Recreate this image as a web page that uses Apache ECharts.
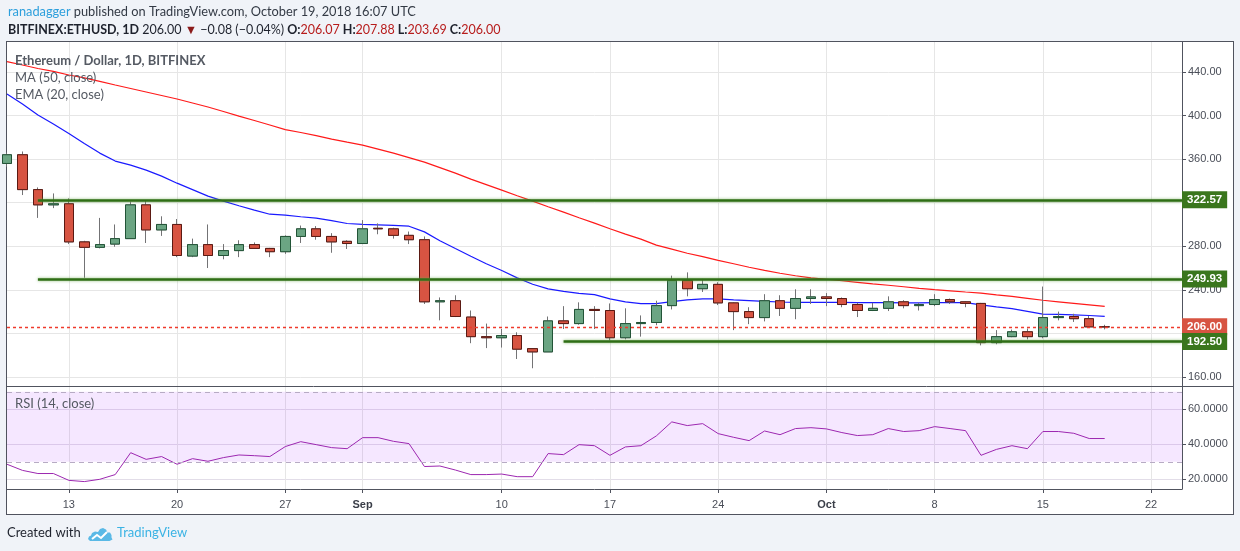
<!DOCTYPE html>
<html>
<head>
<meta charset="utf-8">
<title>BITFINEX:ETHUSD, 1D</title>
<script src="https://cdn.jsdelivr.net/npm/echarts@6.0.0/dist/echarts.min.js"></script>
<style>
html,body{margin:0;padding:0;background:#f0f3f8;overflow:hidden;}
#frame{position:absolute;left:6px;top:41px;width:1226px;height:472px;background:#ffffff;border:1px solid #50535e;}
#c{position:absolute;left:0;top:0;width:1240px;height:551px;}
</style>
</head>
<body>
<div id="frame"></div>
<div id="c"></div>
<script>
// ---------- data ----------
const categories = [
 '2018-08-09','2018-08-10','2018-08-11','2018-08-12','2018-08-13','2018-08-14','2018-08-15','2018-08-16','2018-08-17','2018-08-18',
 '2018-08-19','2018-08-20','2018-08-21','2018-08-22','2018-08-23','2018-08-24','2018-08-25','2018-08-26','2018-08-27','2018-08-28',
 '2018-08-29','2018-08-30','2018-08-31','2018-09-01','2018-09-02','2018-09-03','2018-09-04','2018-09-05','2018-09-06','2018-09-07',
 '2018-09-08','2018-09-09','2018-09-10','2018-09-11','2018-09-12','2018-09-13','2018-09-14','2018-09-15','2018-09-16','2018-09-17',
 '2018-09-18','2018-09-19','2018-09-20','2018-09-21','2018-09-22','2018-09-23','2018-09-24','2018-09-25','2018-09-26','2018-09-27',
 '2018-09-28','2018-09-29','2018-09-30','2018-10-01','2018-10-02','2018-10-03','2018-10-04','2018-10-05','2018-10-06','2018-10-07',
 '2018-10-08','2018-10-09','2018-10-10','2018-10-11','2018-10-12','2018-10-13','2018-10-14','2018-10-15','2018-10-16','2018-10-17',
 '2018-10-18','2018-10-19','2018-10-20','2018-10-21','2018-10-22','2018-10-23','2018-10-24'
];
const opens = [
 356, 364, 332, 318, 319, 284, 279, 282, 287, 318, 295, 300,
 271, 281.5, 271.5, 276, 281.5, 278, 275, 289, 296, 289, 284.5, 282.5,
 296.5, 296, 290, 286, 229, 230, 215, 197, 196, 198, 186, 183,
 211.5, 209, 222, 221, 196, 209, 210, 225.5, 248.5, 241, 245, 228,
 220, 214.5, 230, 223, 232, 233.5, 232, 226.5, 221, 223, 229, 225.5,
 226.5, 231, 229, 227.5, 191.5, 197, 201.5, 197, 214.5, 215.5, 213.5, 206.07
];
const closes = [
 364, 332, 318, 319, 284, 279, 281.5, 287, 318, 295, 300, 271.5,
 281.5, 271.5, 276, 281.5, 278, 275, 289, 296, 289, 284, 282.5, 296,
 296, 290, 286, 229, 230, 215.5, 197, 196, 198, 185.5, 183, 211.5,
 209, 222, 221, 196, 209, 210, 225.5, 248.5, 241, 245, 228, 220,
 214.5, 230, 223, 232, 233.5, 232, 226.5, 221, 223, 229, 225.5, 226.5,
 231, 229, 227.5, 191.5, 197, 201.5, 197, 214.5, 215.5, 213.5, 206, 206.00
];
const lows = [
 353, 327, 306, 315, 282, 251, 278, 279.5, 287, 283, 289.5, 270,
 270, 260, 268, 270, 277.5, 270, 273, 283, 286, 274, 277.5, 282,
 291, 287, 282, 227, 212, 215, 191, 186.5, 187, 176.5, 168, 183,
 204, 208, 204, 193.5, 194.5, 197, 207.5, 222, 234, 238, 226, 203,
 208.5, 211, 216, 213, 227, 225, 224, 215, 220.5, 220.5, 223, 221,
 225, 227, 224, 189, 190, 196.5, 194.5, 195.5, 212, 210.5, 205, 203.69
];
const highs = [
 366, 367, 334, 328.5, 324, 285, 306, 300, 321, 322, 307.5, 305,
 287, 300, 282, 285.5, 283.5, 278.5, 290, 299, 298.5, 292, 285.5, 304,
 301, 297, 293.5, 289, 233, 235, 221, 209, 204, 201, 186.5, 215.5,
 225, 228.5, 225, 227.5, 223, 216.5, 230, 253, 256, 250, 247, 228.5,
 224, 236, 235, 240.5, 240.5, 237, 233, 228, 228, 234, 230.5, 228,
 236, 232, 229.5, 228, 203, 203.5, 204.5, 243, 220, 218, 216, 207.88
];
const ma50 = [
 449.5, 446.4, 443.2, 440.5, 437.2, 434.5, 431.3, 428.0, 424.8, 421.6, 418.4, 415.2,
 411.5, 407.8, 403.7, 399.5, 395.4, 391.3, 387.1, 384.4, 381.6, 378.4, 375.6, 372.9,
 369.2, 365.5, 361.4, 357.2, 352.2, 347.1, 341.6, 336.6, 331.5, 326.4, 321.4, 316.3,
 311.3, 306.2, 301.2, 296.1, 291.1, 286.5, 281.0, 277.3, 273.6, 270.4, 267.1, 263.9,
 260.7, 257.9, 255.2, 252.9, 251.0, 249.7, 248.3, 246.9, 245.5, 244.2, 242.8, 241.4,
 240.2, 239.1, 238.0, 237.0, 235.4, 234.0, 232.2, 230.4, 229.0, 227.6, 226.2, 224.8
];
const ema20 = [
 419.8, 410.6, 400.5, 392.2, 383.5, 374.3, 365.5, 358.2, 354.5, 349.9, 344.4, 337.9,
 332.0, 326.0, 321.4, 317.2, 313.1, 309.4, 308.5, 307.1, 305.8, 303.5, 300.9, 300.0,
 299.7, 299.1, 298.4, 293.2, 285.1, 277.9, 270.8, 263.9, 257.7, 251.0, 245.1, 240.9,
 238.6, 236.8, 235.6, 231.7, 229.0, 227.3, 227.3, 229.2, 230.8, 231.6, 231.7, 230.8,
 230.1, 229.4, 228.8, 228.5, 228.5, 228.5, 228.5, 228.3, 228.2, 228.2, 228.0, 228.0,
 228.2, 228.3, 228.2, 226.2, 224.4, 222.7, 220.2, 217.7, 217.5, 217.0, 216.4, 215.7
];
const rsi14 = [
 28.6, 25.1, 23.3, 23.3, 19.4, 18.7, 20.0, 22.7, 35.2, 31.4, 33.0, 28.6,
 31.8, 30.3, 32.4, 33.9, 33.5, 33.0, 38.7, 41.5, 39.8, 38.1, 37.5, 43.8,
 43.8, 41.7, 40.4, 27.3, 27.6, 25.3, 22.7, 22.7, 23.0, 21.5, 21.5, 34.7,
 34.1, 39.8, 39.2, 33.7, 38.5, 39.2, 44.8, 52.8, 50.7, 51.8, 46.1, 44.0,
 42.1, 47.6, 45.5, 49.0, 49.5, 48.8, 46.7, 45.0, 45.5, 49.0, 47.3, 47.8,
 50.1, 49.0, 47.8, 33.7, 37.1, 39.2, 37.5, 47.3, 47.3, 46.3, 43.3, 43.3
];
const levelValues = [322.57, 249.93, 192.50];
const levelStarts = ['2018-08-11', '2018-08-11', '2018-09-14'];
const lastPrice = 206.00;
const priceTicks = [160, 200, 240, 280, 320, 360, 400, 440];
const rsiTicks = [20, 40, 60];
const rsiBand = [30, 70];
const xTickDates = ['2018-08-13','2018-08-20','2018-08-27','2018-09-01','2018-09-10','2018-09-17','2018-09-24','2018-10-01','2018-10-08','2018-10-15','2018-10-22'];
const xTickLabels = ['13','20','27','Sep','10','17','24','Oct','8','15','22'];

// ---------- chart ----------
const F = 'Lato, "Open Sans", sans-serif';
const AF = '"Liberation Sans", Arial, sans-serif';
const UP = '#6ba583', UPB = '#225437', DN = '#d75442', DNB = '#5b1a13', WICK = '#737375';
const tickSet = new Set(xTickDates);
const tickFn = (i, v) => tickSet.has(v);
const lastCat = categories[categories.length - 1];

const wickData = opens.map((o, i) => [o, closes[i], lows[i], highs[i]]);
const bodyData = opens.map((o, i) => [o, closes[i], Math.min(o, closes[i]), Math.max(o, closes[i])]);

const greenLabel = {
  show: true, position: 'end', distance: 0, color: '#ffffff', fontWeight: 'bold',
  fontSize: 11.5, fontFamily: AF, backgroundColor: '#3a761d', padding: [3, 5, 2, 5]
};
const levelLines = levelValues.map((v, k) => [
  { coord: [levelStarts[k], v], label: Object.assign({}, greenLabel, { formatter: v.toFixed(2) }) },
  { coord: [lastCat, v] }
]);

const tx = (c, w, s) => ({ color: c, fontSize: s || 13, fontWeight: w || 'normal', fontFamily: F });

const chart = echarts.init(document.getElementById('c'));
chart.setOption({
  animation: false,
  title: [
    { left: 3, top: 0, padding: 5, text: '{u|ranadagger}{t| published on TradingView.com, October 19, 2018 16:07 UTC}',
      textStyle: { fontWeight: 'normal', fontSize: 12.8, rich: { u: tx('#2d9fdc', 'normal', 12.8), t: tx('#333a45', 'normal', 12.8) } } },
    { left: 3, top: 18, padding: 5, text: '{b|BITFINEX:ETHUSD, 1D}{t| 206.00 }{r|▼}{t| \u22120.08 (\u22120.04%) }{b|O:}{v|206.07}{b| H:}{v|207.88}{b| L:}{v|203.69}{b| C:}{v|206.00}',
      textStyle: { fontWeight: 'normal', fontSize: 12.5, rich: {
        b: tx('#1e222d', 'bold', 12.5), t: tx('#1e222d', 'normal', 12.5), r: tx('#8b1a1a', 'normal', 12.5), v: tx('#b71c1c', 'normal', 12.5) } } },
    { left: 10, top: 49, padding: 5, text: 'Ethereum / Dollar, 1D, BITFINEX', textStyle: tx('#555a63', 'bold') },
    { left: 10, top: 66, padding: 5, text: 'MA (50, close)', textStyle: tx('#555a63') },
    { left: 10, top: 83, padding: 5, text: 'EMA (20, close)', textStyle: tx('#555a63') },
    { left: 10, top: 392, padding: 5, text: 'RSI (14, close)', textStyle: tx('#555a63') },
    { left: 2, top: 521, padding: 5, text: 'Created with', textStyle: tx('#1e222d') },
    { left: 112, top: 521, padding: 5, text: 'TradingView', textStyle: tx('#3bb3e4') }
  ],
  graphic: [
    { type: 'line', shape: { x1: 7, y1: 386.5, x2: 1233, y2: 386.5 }, style: { stroke: '#50535e', lineWidth: 1 }, z: 100 },
    { type: 'polygon', x: 88, y: 526,
      shape: { points: [[2,15],[0,13],[1,10.5],[3,9.5],[4,7],[7,5.5],[10,6],[12,3],[15,2],[18,3.5],[19.5,6.5],[22,6.5],[23.5,9],[23.5,11.5],[24.5,13.5],[21.5,15]] },
      style: { fill: '#5ab9e6' }, z: 100 },
    { type: 'polyline', x: 88, y: 526, shape: { points: [[4,13],[9,9],[13,12],[19,6]] },
      style: { fill: null, stroke: '#ffffff', lineWidth: 2 }, z: 101 }
  ],
  grid: [
    { left: 7, right: 58, top: 42, height: 344 },
    { left: 7, right: 58, top: 387, height: 102 }
  ],
  xAxis: [
    { type: 'category', gridIndex: 0, data: categories, boundaryGap: false,
      axisLine: { show: false }, axisTick: { show: false }, axisLabel: { show: false },
      splitLine: { show: true, interval: tickFn, lineStyle: { color: '#e6e6e6', width: 1 } } },
    { type: 'category', gridIndex: 1, data: categories, boundaryGap: false,
      axisLine: { show: true, lineStyle: { color: '#50535e', width: 1 } },
      axisTick: { show: true, interval: tickFn, length: 4, lineStyle: { color: '#50535e' } },
      axisLabel: { interval: tickFn, color: '#4a4e58', fontSize: 11, fontFamily: AF, margin: 10,
        formatter: (v) => { const s = xTickLabels[xTickDates.indexOf(v)] || ''; return /^[A-Za-z]/.test(s) ? '{m|' + s + '}' : s; },
        rich: { m: { fontWeight: 'bold', color: '#3a3e48', fontSize: 11, fontFamily: AF } } },
      splitLine: { show: true, interval: tickFn, lineStyle: { color: '#e6e6e6', width: 1 } } }
  ],
  yAxis: [
    { type: 'value', gridIndex: 0, position: 'right', min: 151.7, max: 467.5,
      axisLine: { show: true, lineStyle: { color: '#50535e' } },
      axisTick: { show: true, length: 4, customValues: priceTicks, lineStyle: { color: '#50535e' } },
      axisLabel: { customValues: priceTicks, formatter: (v) => v.toFixed(2), color: '#4a4e58', fontSize: 11, fontFamily: AF, margin: 6 },
      splitLine: { show: true, lineStyle: { color: '#e6e6e6', width: 1 } } },
    { type: 'value', gridIndex: 1, position: 'right', min: 14.46, max: 72.74,
      axisLine: { show: true, lineStyle: { color: '#50535e' } },
      axisTick: { show: true, length: 4, customValues: rsiTicks, lineStyle: { color: '#50535e' } },
      axisLabel: { customValues: rsiTicks, formatter: (v) => v.toFixed(4), color: '#4a4e58', fontSize: 11, fontFamily: AF, margin: 6 },
      splitLine: { show: true, lineStyle: { color: '#e2dde8', width: 1 } } }
  ],
  series: [
    { name: 'MA (50, close)', type: 'line', xAxisIndex: 0, yAxisIndex: 0, data: ma50, symbol: 'none',
      lineStyle: { color: '#ff1a1a', width: 1.2 }, z: 1 },
    { name: 'EMA (20, close)', type: 'line', xAxisIndex: 0, yAxisIndex: 0, data: ema20, symbol: 'none',
      lineStyle: { color: '#1a1aff', width: 1.2 }, z: 1 },
    { name: 'wicks', type: 'candlestick', xAxisIndex: 0, yAxisIndex: 0, data: wickData, barWidth: 10, clip: true,
      itemStyle: { color: 'rgba(0,0,0,0)', color0: 'rgba(0,0,0,0)', borderColor: WICK, borderColor0: WICK, borderWidth: 1 }, z: 2,
      markLine: {
        silent: true, symbol: ['none', 'none'],
        lineStyle: { color: '#ef3b2c', width: 1.3, type: [3, 3] },
        label: { show: true, position: 'end', distance: 0, formatter: lastPrice.toFixed(2), color: '#ffffff', fontWeight: 'bold',
          fontSize: 11.5, fontFamily: AF, backgroundColor: '#d75442', padding: [3, 5, 2, 5] },
        data: [{ yAxis: lastPrice }]
      } },
    { name: 'ETHUSD', type: 'candlestick', xAxisIndex: 0, yAxisIndex: 0, data: bodyData, barWidth: 10, clip: true,
      itemStyle: { color: UP, color0: DN, borderColor: UPB, borderColor0: DNB, borderWidth: 1 }, z: 3,
      markLine: {
        silent: true, symbol: ['none', 'none'],
        lineStyle: { color: '#2f6e16', width: 2.5, type: 'solid', shadowColor: 'rgba(110,170,80,0.8)', shadowBlur: 3 },
        data: levelLines
      } },
    { name: 'RSI (14, close)', type: 'line', xAxisIndex: 1, yAxisIndex: 1, data: rsi14, symbol: 'none',
      lineStyle: { color: '#9c27b0', width: 1 }, z: 3,
      markArea: { silent: true, itemStyle: { color: 'rgba(153,21,255,0.1)' }, data: [[{ yAxis: rsiBand[1] }, { yAxis: rsiBand[0] }]] },
      markLine: { silent: true, symbol: ['none', 'none'], label: { show: false },
        lineStyle: { color: '#b7abc4', width: 1, type: [5, 4] },
        data: [{ yAxis: rsiBand[1] }, { yAxis: rsiBand[0] }] } }
  ]
});
</script>
</body>
</html>
